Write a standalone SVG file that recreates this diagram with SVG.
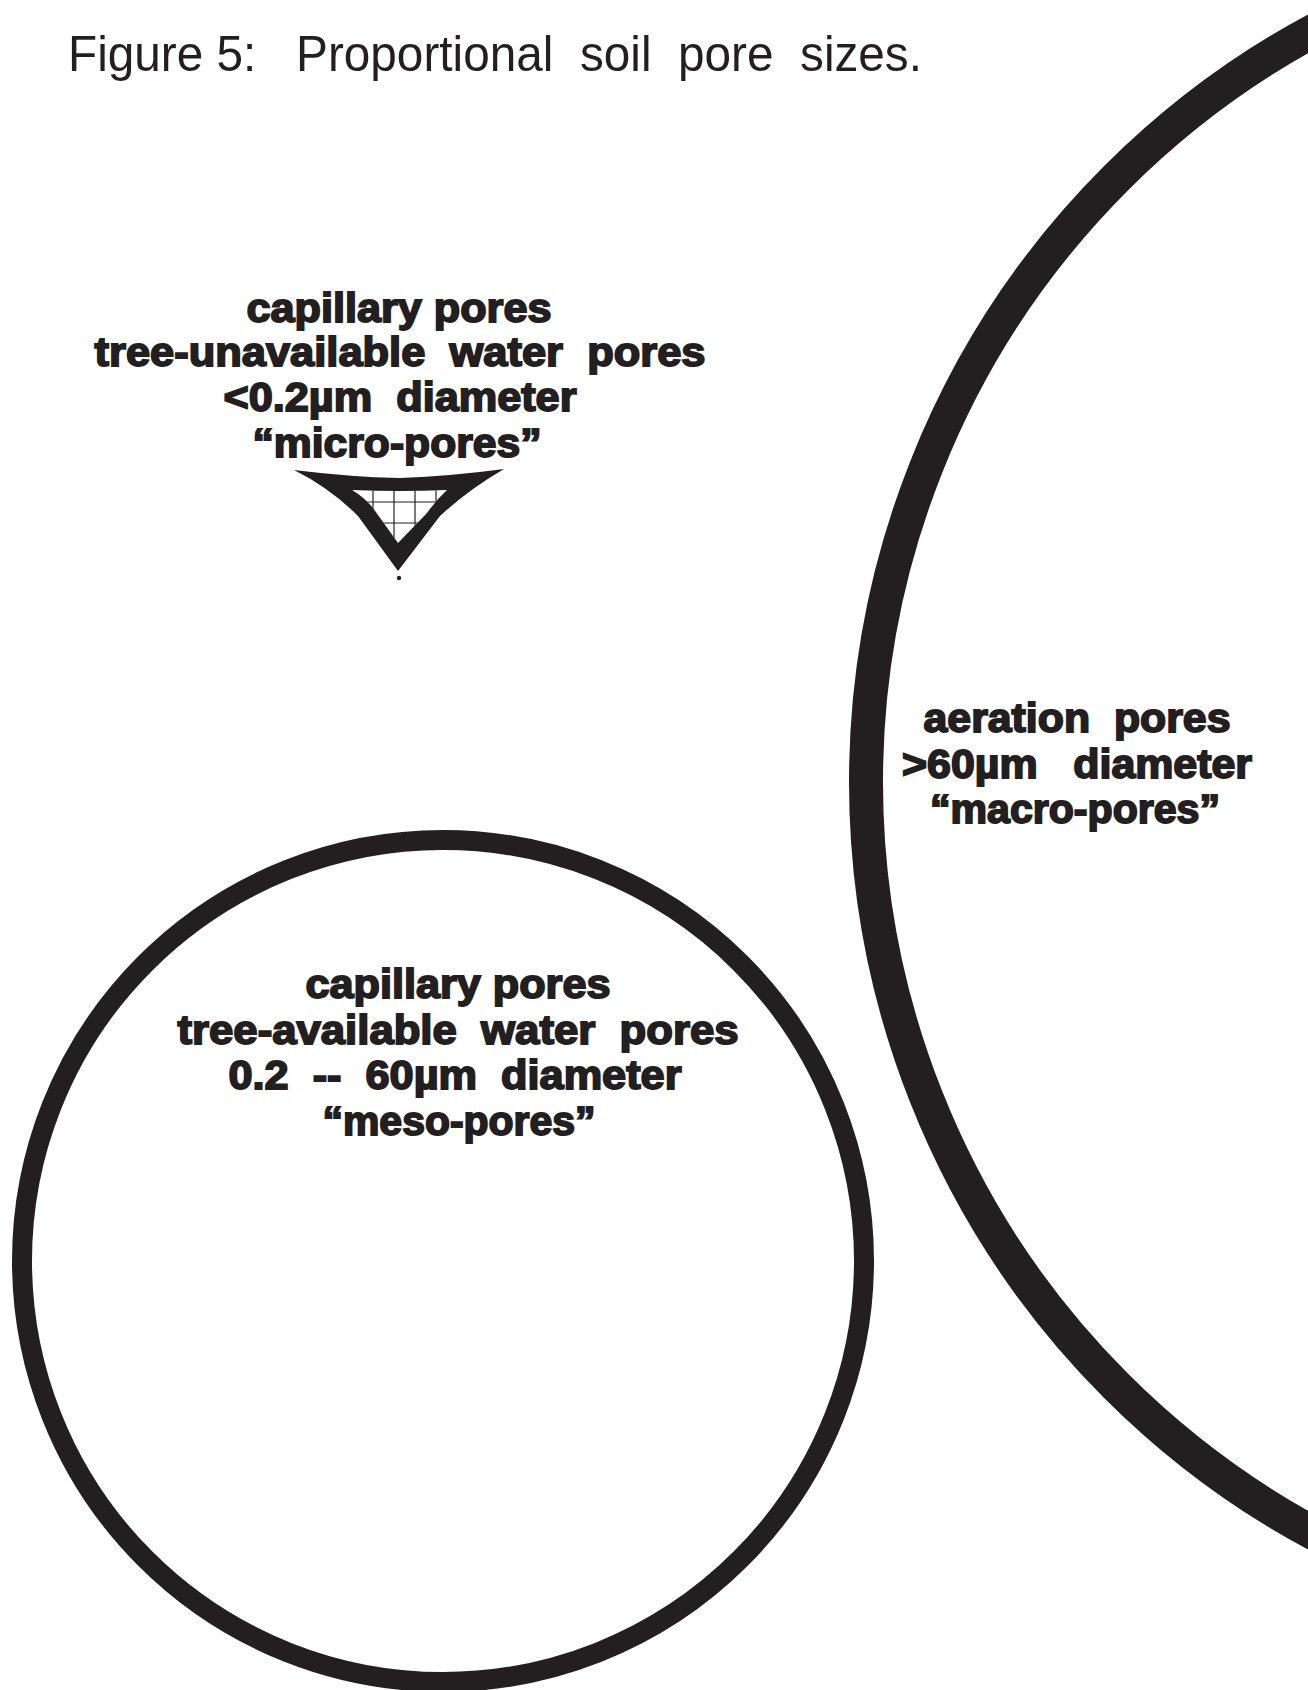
<svg xmlns="http://www.w3.org/2000/svg" width="1308" height="1690" viewBox="0 0 1308 1690">
  <style>
    .ink { fill: #231f20; }
    .ring { fill: none; stroke: #231f20; }
    text { white-space: pre; }
    .title { font-family: "Liberation Sans", Arial, sans-serif; font-size: 50px; fill: #231f20; }
    .lbl { font-family: "Liberation Sans", Arial, sans-serif; font-weight: bold; font-size: 40px; fill: #231f20; stroke: #231f20; stroke-width: 1.8px; text-anchor: middle; }
    .grid { stroke: #231f20; stroke-width: 1.2; fill: none; }
  </style>
  <defs>
    <clipPath id="holeClip">
      <path d="M352,490 Q400,492 447,490 Q436,500 427,513 L398,543 L373,508 Q364,497 352,490 Z"/>
    </clipPath>
  </defs>
  <rect width="1308" height="1690" fill="#ffffff"/>

  <g id="title">
    <text class="title" x="68" y="71" textLength="854" lengthAdjust="spacingAndGlyphs" xml:space="preserve">Figure 5:   Proportional  soil  pore  sizes.</text>
  </g>

  <g id="macro-pores">
    <circle class="ring" cx="1720" cy="782" r="854" stroke-width="34"/>
    <text class="lbl" x="1077" y="732" textLength="307" lengthAdjust="spacingAndGlyphs" xml:space="preserve">aeration  pores</text>
    <text class="lbl" x="1077" y="778" textLength="350" lengthAdjust="spacingAndGlyphs" xml:space="preserve">&gt;60µm   diameter</text>
    <text class="lbl" x="1075" y="823" textLength="290" lengthAdjust="spacingAndGlyphs">“macro-pores”</text>
  </g>

  <g id="meso-pores">
    <circle class="ring" cx="443" cy="1261" r="421" stroke-width="20"/>
    <text class="lbl" x="458" y="998" textLength="305" lengthAdjust="spacingAndGlyphs">capillary pores</text>
    <text class="lbl" x="458" y="1044" textLength="561" lengthAdjust="spacingAndGlyphs" xml:space="preserve">tree-available  water  pores</text>
    <text class="lbl" x="455" y="1089" textLength="453" lengthAdjust="spacingAndGlyphs" xml:space="preserve">0.2  --  60µm  diameter</text>
    <text class="lbl" x="459" y="1135" textLength="273" lengthAdjust="spacingAndGlyphs">“meso-pores”</text>
  </g>

  <g id="micro-pores">
    <text class="lbl" x="399" y="322" textLength="305" lengthAdjust="spacingAndGlyphs">capillary pores</text>
    <text class="lbl" x="400" y="366" textLength="611" lengthAdjust="spacingAndGlyphs" xml:space="preserve">tree-unavailable  water  pores</text>
    <text class="lbl" x="400" y="411" textLength="353" lengthAdjust="spacingAndGlyphs" xml:space="preserve">&lt;0.2µm  diameter</text>
    <text class="lbl" x="397" y="457" textLength="289" lengthAdjust="spacingAndGlyphs">“micro-pores”</text>
    <path class="ink" fill-rule="evenodd" d="M294,470 Q350,477 400,478 Q452,476 504,469 Q468,490 440,516 L398,571 L358,516 Q330,488 294,470 Z M352,490 Q400,492 447,490 Q436,500 427,513 L398,543 L373,508 Q364,497 352,490 Z"/>
    <g clip-path="url(#holeClip)">
      <path class="grid" d="M352,481 V550 M373,481 V550 M394,481 V550 M415,481 V550 M436,481 V550 M340,502 H460 M340,523 H460"/>
    </g>
    <circle class="ink" cx="399" cy="578" r="2.2"/>
  </g>
</svg>
